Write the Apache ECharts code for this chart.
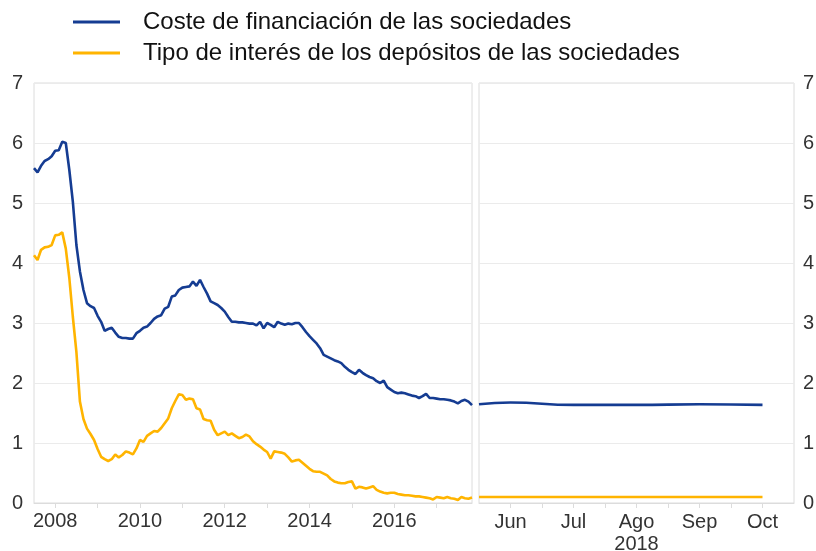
<!DOCTYPE html>
<html>
<head>
<meta charset="utf-8">
<script src="https://cdn.jsdelivr.net/npm/echarts@6/dist/echarts.min.js"></script>
<style>html,body{margin:0;padding:0;background:#fff}#c{width:816px;height:551px}</style>
</head>
<body>
<div id="c"></div>
<script>
// Monthly data, Jan 2008 - May 2018 (left panel)
const startYear = 2008;
const costeFinanciacion = [
5.58,5.51,5.62,5.70,5.73,5.78,5.87,5.88,6.02,6.00,5.55,5.02,
4.30,3.86,3.55,3.33,3.28,3.25,3.12,3.02,2.87,2.90,2.92,2.84,
2.77,2.75,2.75,2.74,2.74,2.83,2.87,2.92,2.94,3.00,3.07,3.11,
3.13,3.24,3.27,3.44,3.46,3.55,3.59,3.60,3.61,3.69,3.62,3.72,
3.60,3.49,3.36,3.33,3.30,3.25,3.19,3.10,3.02,3.02,3.01,3.01,
3.00,2.99,2.99,2.96,3.02,2.91,3.00,2.97,2.93,3.02,2.99,2.97,
2.99,2.98,3.00,3.00,2.93,2.85,2.78,2.72,2.66,2.58,2.47,2.44,
2.41,2.38,2.36,2.33,2.27,2.22,2.18,2.15,2.22,2.17,2.13,2.10,
2.08,2.03,2.00,2.04,1.93,1.89,1.85,1.83,1.84,1.83,1.81,1.79,
1.78,1.75,1.78,1.82,1.75,1.75,1.74,1.73,1.73,1.72,1.71,1.69,
1.66,1.70,1.72,1.69,1.63
];
const tipoDepositos = [
4.13,4.05,4.22,4.26,4.27,4.30,4.46,4.47,4.51,4.24,3.75,3.10,
2.52,1.69,1.40,1.24,1.15,1.05,0.90,0.77,0.73,0.70,0.73,0.81,
0.76,0.80,0.86,0.84,0.81,0.91,1.05,1.02,1.12,1.16,1.20,1.19,
1.25,1.33,1.41,1.58,1.70,1.81,1.80,1.72,1.74,1.73,1.58,1.56,
1.40,1.38,1.37,1.22,1.13,1.16,1.19,1.13,1.16,1.12,1.08,1.10,
1.14,1.11,1.03,0.98,0.94,0.89,0.85,0.74,0.86,0.85,0.84,0.82,
0.76,0.69,0.71,0.72,0.67,0.62,0.57,0.53,0.52,0.52,0.49,0.46,
0.40,0.36,0.34,0.33,0.33,0.35,0.36,0.24,0.27,0.26,0.24,0.26,
0.28,0.22,0.19,0.17,0.16,0.17,0.17,0.15,0.14,0.13,0.13,0.12,
0.11,0.11,0.10,0.09,0.08,0.06,0.10,0.09,0.08,0.10,0.08,0.07,
0.05,0.10,0.08,0.07,0.09
];
// Right panel: 2018, month number (5.5 = mid-May)
const mesesX = [5.5, 6, 7, 8, 9, 10];
const costeReciente = [1.645, 1.675, 1.635, 1.635, 1.645, 1.635];
const tipoReciente = [0.10, 0.10, 0.10, 0.10, 0.10, 0.10];
const mesesTicks = [6, 7, 8, 9, 10];
const mesesEtiquetas = {6:'Jun', 7:'Jul', 8:'Ago', 9:'Sep', 10:'Oct'};
const nombres = ['Coste de financiación de las sociedades', 'Tipo de interés de los depósitos de las sociedades'];

const categorias = costeFinanciacion.map((_, i) => {
  const y = startYear + Math.floor(i / 12), m = i % 12 + 1;
  return y + '-' + (m < 10 ? '0' + m : m);
});

const BLUE = '#153c92', YELLOW = '#ffb400';
const FONT = 'Liberation Sans, Arial, sans-serif';
const LABEL = {color: '#333', fontSize: 20, fontFamily: FONT};

const chart = echarts.init(document.getElementById('c'), null, {renderer: 'canvas'});
chart.setOption({
  animation: false,
  backgroundColor: '#fff',
  legend: {
    data: nombres,
    orient: 'vertical',
    left: 68, top: 5,
    itemWidth: 47, itemHeight: 3, itemGap: 7,
    icon: 'rect',
    textStyle: {color: '#111', fontSize: 24, fontFamily: FONT, padding: [0,0,0,18], lineHeight: 24}
  },
  grid: [
    {left: 34, top: 83, width: 438, height: 420, show: true, borderColor: '#dcdcdc', borderWidth: 1, outerBoundsMode: 'none'},
    {left: 479, top: 83, width: 315, height: 420, show: true, borderColor: '#dcdcdc', borderWidth: 1, outerBoundsMode: 'none'}
  ],
  xAxis: [
    {
      type: 'category', gridIndex: 0, data: categorias, boundaryGap: false,
      axisLine: {lineStyle: {color: '#dcdcdc'}},
      axisTick: {show: true, length: 5, lineStyle: {color: '#dcdcdc'},
        interval: (i) => i % 12 === 6},
      axisLabel: Object.assign({}, LABEL, {
        margin: 8,
        interval: (i) => i % 12 === 6 && (Math.floor(i / 12) % 2 === 0),
        formatter: (v) => v.slice(0, 4)
      }),
      splitLine: {show: false}
    },
    {
      type: 'value', gridIndex: 1, min: 5.5, max: 10.5,
      name: '2018', nameLocation: 'middle', nameGap: 31, nameMoveOverlap: false,
      nameTextStyle: Object.assign({}, LABEL),
      axisLine: {show: true, lineStyle: {color: '#dcdcdc'}},
      axisTick: {show: true, length: 5, lineStyle: {color: '#dcdcdc'},
        customValues: [6,6.5,7,7.5,8,8.5,9,9.5,10]},
      axisLabel: Object.assign({}, LABEL, {
        margin: 9, customValues: mesesTicks,
        formatter: (v) => mesesEtiquetas[Math.round(v)] || ''
      }),
      splitLine: {show: false}
    }
  ],
  yAxis: [
    {
      type: 'value', gridIndex: 0, min: 0, max: 7, interval: 1, position: 'left',
      axisLine: {show: false}, axisTick: {show: false},
      axisLabel: Object.assign({}, LABEL, {margin: 11}),
      splitLine: {lineStyle: {color: '#ebebeb'}}
    },
    {
      type: 'value', gridIndex: 1, min: 0, max: 7, interval: 1, position: 'right',
      axisLine: {show: false}, axisTick: {show: false},
      axisLabel: Object.assign({}, LABEL, {margin: 9}),
      splitLine: {lineStyle: {color: '#ebebeb'}}
    }
  ],
  series: [
    {name: nombres[0], type: 'line', xAxisIndex: 0, yAxisIndex: 0, data: costeFinanciacion,
     showSymbol: false, lineStyle: {width: 2.6, color: BLUE}, itemStyle: {color: BLUE}},
    {name: nombres[1], type: 'line', xAxisIndex: 0, yAxisIndex: 0, data: tipoDepositos,
     showSymbol: false, lineStyle: {width: 2.6, color: YELLOW}, itemStyle: {color: YELLOW}},
    {name: nombres[0], type: 'line', xAxisIndex: 1, yAxisIndex: 1, smooth: true,
     data: mesesX.map((x, i) => [x, costeReciente[i]]),
     showSymbol: false, lineStyle: {width: 2.6, color: BLUE}, itemStyle: {color: BLUE}},
    {name: nombres[1], type: 'line', xAxisIndex: 1, yAxisIndex: 1,
     data: mesesX.map((x, i) => [x, tipoReciente[i]]),
     showSymbol: false, lineStyle: {width: 2.6, color: YELLOW}, itemStyle: {color: YELLOW}}
  ]
});
</script>
</body>
</html>
